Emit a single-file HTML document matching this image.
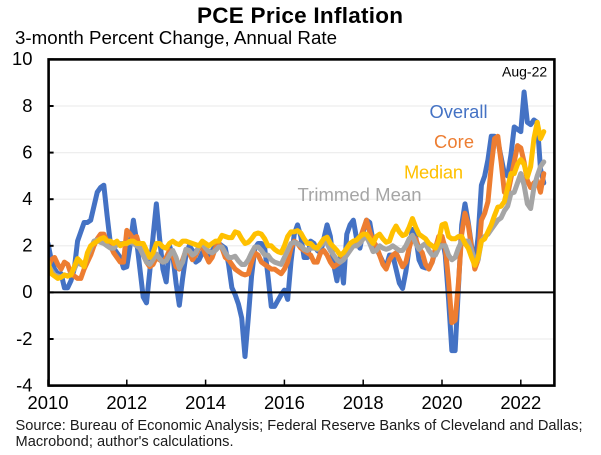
<!DOCTYPE html>
<html>
<head>
<meta charset="utf-8">
<title>PCE Price Inflation</title>
<style>
html,body{margin:0;padding:0;background:#fff;}
svg{display:block;font-family:"Liberation Sans",Arial,sans-serif;}
</style>
</head>
<body>
<svg id="chart" width="601" height="455" viewBox="0 0 601 455" xmlns="http://www.w3.org/2000/svg">
  <text x="197" y="23" font-size="22.5" font-weight="bold" fill="#000" textLength="206" lengthAdjust="spacing">PCE Price Inflation</text>
  <text x="15" y="44" font-size="18.7" fill="#000" textLength="322" lengthAdjust="spacing">3-month Percent Change, Annual Rate</text>
  <g id="grid"></g>
  <g id="series"></g>
  <g id="axes"></g>
  <text x="502" y="76.5" font-size="14" fill="#000">Aug-22</text>
  <text x="429.5" y="118" font-size="18.3" fill="#4472C4" textLength="58">Overall</text>
  <text x="434" y="148" font-size="18.3" fill="#ED7D31" textLength="40">Core</text>
  <text x="404" y="178.5" font-size="18.3" fill="#FFC000" textLength="59">Median</text>
  <text x="297.5" y="201" font-size="18.5" fill="#A5A5A5" textLength="124">Trimmed Mean</text>
  <text x="15.5" y="430" font-size="14.6" fill="#1a1a1a" textLength="567">Source: Bureau of Economic Analysis; Federal Reserve Banks of Cleveland and Dallas;</text>
  <text x="15.5" y="446" font-size="14.6" fill="#1a1a1a" textLength="218">Macrobond; author's calculations.</text>
</svg>
<script>
const yTicks = [10, 8, 6, 4, 2, 0, -2, -4];
const xTicks = [2010, 2012, 2014, 2016, 2018, 2020, 2022];
const startYear = 2010;
const overall = [
  2.1,1.4,1.0,0.8,0.8,0.2,0.2,0.5,1.0,2.2,2.6,3.0,
  3.0,3.1,3.7,4.3,4.5,4.6,3.3,2.1,1.9,1.7,1.5,1.05,
  1.1,2.0,3.1,2.2,1.0,-0.2,-0.45,0.9,2.4,3.8,2.3,1.0,
  0.45,2.0,1.6,0.4,-0.55,0.6,1.6,2.0,1.8,1.3,1.4,1.7,
  1.9,1.6,1.8,2.0,2.1,2.0,1.9,1.2,0.2,-0.1,-0.5,-1.1,
  -2.75,-1.1,0.7,1.9,2.1,2.1,1.9,0.7,-0.6,-0.6,-0.35,-0.1,
  0.1,-0.3,1.3,2.5,2.9,2.4,1.5,1.5,2.2,2.1,1.8,1.7,
  2.3,2.9,2.4,1.2,0.5,1.5,0.4,2.5,2.9,3.1,2.3,1.9,
  2.6,3.1,3.0,2.2,1.9,1.6,1.3,1.1,1.6,1.6,1.0,0.4,
  0.17,0.9,1.9,2.7,2.4,1.4,1.1,1.05,1.05,1.3,1.8,2.2,
  2.4,1.6,-0.3,-2.5,-2.5,0.2,2.9,3.8,3.0,2.0,1.2,2.4,
  4.6,5.0,5.7,6.7,6.7,6.5,5.8,5.1,5.0,5.9,7.1,7.0,
  6.9,8.6,7.3,7.2,7.4,7.3,5.3,4.7
];
const core = [
  1.1,1.4,1.5,1.2,1.0,1.3,1.2,0.8,0.7,0.6,0.6,1.0,
  1.3,1.6,2.0,2.3,2.5,2.5,2.2,2.0,1.7,1.5,1.3,1.3,
  2.66,2.5,2.3,2.4,1.9,1.6,1.3,1.1,1.2,1.5,1.4,1.3,
  1.5,1.8,1.6,1.1,1.0,1.4,1.8,1.7,1.4,1.6,1.9,2.0,
  1.6,1.3,1.5,1.9,2.1,1.9,1.5,1.4,1.2,1.0,0.9,0.8,
  0.75,0.8,1.3,1.7,1.6,1.3,1.2,1.1,1.0,1.0,0.9,0.8,
  1.0,1.3,1.9,2.2,2.1,1.9,1.8,1.7,1.6,1.3,1.3,1.7,
  1.8,1.6,1.3,1.1,1.2,1.3,1.5,1.6,1.9,2.1,2.0,2.3,
  2.7,3.1,2.6,2.2,2.0,1.6,1.2,1.0,1.4,1.6,1.7,1.4,
  1.1,1.3,1.9,2.4,2.3,1.9,1.7,1.2,1.0,1.3,1.9,2.4,
  2.4,1.9,0.5,-1.3,-1.2,0.4,2.5,3.4,2.9,1.9,1.0,1.4,
  3.1,3.4,3.9,5.4,6.6,6.7,5.6,4.3,4.2,4.9,5.6,6.3,
  6.2,5.6,4.8,4.5,4.7,4.8,4.3,5.1
];
const trimmedMean = [
  1.2,0.95,0.75,0.7,0.65,0.75,0.7,0.8,1.0,1.3,1.2,1.15,
  1.6,1.9,2.2,2.25,2.15,2.1,2.0,1.9,1.9,2.05,2.1,2.1,
  2.1,2.15,2.1,2.0,1.9,1.6,1.3,1.2,1.4,1.65,1.45,1.3,
  1.35,1.6,1.8,1.5,1.05,1.3,1.85,1.8,1.6,1.7,2.0,2.1,
  1.9,1.75,1.7,1.8,1.95,1.95,1.7,1.5,1.5,1.55,1.35,1.2,
  1.2,1.4,1.7,1.95,1.95,1.8,1.6,1.6,1.4,1.3,1.25,1.2,
  1.5,1.8,2.1,2.15,2.1,2.0,1.85,1.8,1.9,1.9,1.85,2.0,
  2.15,2.1,1.8,1.6,1.4,1.3,1.4,1.6,1.8,2.0,2.0,2.1,
  2.3,2.4,2.1,1.75,1.8,2.0,1.9,1.85,1.9,2.0,1.9,1.8,
  1.8,2.0,2.3,2.45,2.1,1.85,2.0,2.1,1.8,1.6,1.6,1.9,
  2.0,2.0,1.6,1.4,1.5,1.9,2.2,2.2,2.2,1.8,1.4,1.4,
  2.2,2.4,2.5,2.7,2.9,3.1,3.2,3.5,3.7,4.25,4.3,4.7,
  5.1,4.6,3.8,3.6,4.5,5.0,5.4,5.6
];
const median = [
  1.3,0.8,0.7,0.6,0.65,0.75,0.7,0.75,1.1,1.45,1.3,1.1,
  1.7,2.0,2.1,2.2,2.3,2.35,2.2,2.2,2.1,2.2,2.0,2.1,
  2.1,2.2,2.2,2.1,2.1,2.1,1.8,1.5,1.7,2.1,2.1,1.95,
  1.9,2.1,2.2,2.1,2.05,2.2,2.2,2.15,2.1,2.05,2.0,2.2,
  2.1,2.0,2.1,2.2,2.2,2.45,2.4,2.35,2.35,2.6,2.55,2.3,
  2.1,2.15,2.3,2.5,2.55,2.5,2.3,2.0,2.0,1.85,1.75,1.7,
  2.0,2.4,2.6,2.6,2.65,2.55,2.3,2.1,2.1,1.95,1.9,2.1,
  2.3,2.37,2.1,1.95,1.8,1.6,1.7,1.9,2.1,2.2,2.25,2.4,
  2.5,2.5,2.3,2.1,2.4,2.5,2.3,2.15,2.2,2.6,2.85,2.6,
  2.44,2.5,2.8,3.17,2.8,2.5,2.4,2.3,2.1,2.0,1.9,2.2,
  2.9,2.95,2.4,2.3,2.3,2.4,2.4,2.1,1.9,1.5,1.16,1.5,
  2.2,2.3,2.6,2.9,3.3,3.66,3.7,3.9,4.5,5.1,5.1,5.5,
  5.7,5.5,4.95,5.4,6.6,7.3,6.6,6.9
];
const seriesNames = ['overall', 'core', 'trimmed-mean', 'median'];
const seriesColors = ['#4472C4', '#ED7D31', '#A5A5A5', '#FFC000'];
const seriesValues = [overall, core, trimmedMean, median];

const NS = 'http://www.w3.org/2000/svg';
const left = 48.6, right = 554.4, top_ = 59.4, bottom = 385.6;
const yearPx = 39.4;
function xYear(year) { return 48 + (year - startYear) * yearPx; }
function xMonth(i) { return xYear(startYear + i / 12); }
function yVal(v) { return bottom - (v + 4) * (bottom - top_) / 14; }

function line(parent, x1, y1, x2, y2, stroke, width) {
  const l = document.createElementNS(NS, 'line');
  l.setAttribute('x1', x1);
  l.setAttribute('y1', y1);
  l.setAttribute('x2', x2);
  l.setAttribute('y2', y2);
  l.setAttribute('stroke', stroke);
  l.setAttribute('stroke-width', width);
  parent.appendChild(l);
  return l;
}
function label(parent, x, y, str, anchor) {
  const t = document.createElementNS(NS, 'text');
  t.setAttribute('x', x);
  t.setAttribute('y', y);
  t.setAttribute('font-size', '18.4');
  t.setAttribute('fill', '#000');
  t.setAttribute('text-anchor', anchor);
  t.textContent = str;
  parent.appendChild(t);
  return t;
}

const grid = document.getElementById('grid');
const axes = document.getElementById('axes');
const seriesGroup = document.getElementById('series');

yTicks.forEach(function (v) {
  if (v !== 10 && v !== -4 && v !== 0) {
    const g = line(grid, left, yVal(v), right, yVal(v), '#EEEEEE', 1.25);
    
    
  }
  const tl = label(axes, 32.5, yVal(v) + 5.8, String(v), 'end');
  
  
  const tk = line(axes, left, yVal(v), left + 5, yVal(v), '#000', 2);
  
  
});

seriesValues.forEach(function (vals, s) {
  const p = document.createElementNS(NS, 'path');
  p.setAttribute('d', vals.map(function (v, i) {
    return (i ? 'L' : 'M') + xMonth(i).toFixed(2) + ' ' + yVal(v).toFixed(2);
  }).join(' '));
  p.setAttribute('fill', 'none');
  p.setAttribute('stroke', seriesColors[s]);
  p.setAttribute('stroke-width', '5');
  p.setAttribute('stroke-linejoin', 'round');
  p.setAttribute('stroke-linecap', 'round');
  p.setAttribute('clip-path', 'url(#plot-clip)');
  
  
  seriesGroup.appendChild(p);
});

const zero = line(axes, left, yVal(0), right, yVal(0), '#000', 2);



const frame = document.createElementNS(NS, 'rect');
frame.setAttribute('x', left);
frame.setAttribute('y', top_);
frame.setAttribute('width', right - left);
frame.setAttribute('height', bottom - top_);
frame.setAttribute('fill', 'none');
frame.setAttribute('stroke', '#000');
frame.setAttribute('stroke-width', '2.6');


axes.appendChild(frame);

xTicks.forEach(function (yr) {
  const tk = line(axes, xYear(yr), bottom, xYear(yr), bottom - 6, '#000', 1.5);
  
  
  const tl = label(axes, xYear(yr), 409, String(yr), 'middle');
  
  
});

const defs = document.createElementNS(NS, 'defs');
const clip = document.createElementNS(NS, 'clipPath');
clip.setAttribute('id', 'plot-clip');
const cr = document.createElementNS(NS, 'rect');
cr.setAttribute('x', left);
cr.setAttribute('y', top_);
cr.setAttribute('width', right - left);
cr.setAttribute('height', bottom - top_);
clip.appendChild(cr);
defs.appendChild(clip);
document.getElementById('chart').appendChild(defs);
</script>
</body>
</html>
